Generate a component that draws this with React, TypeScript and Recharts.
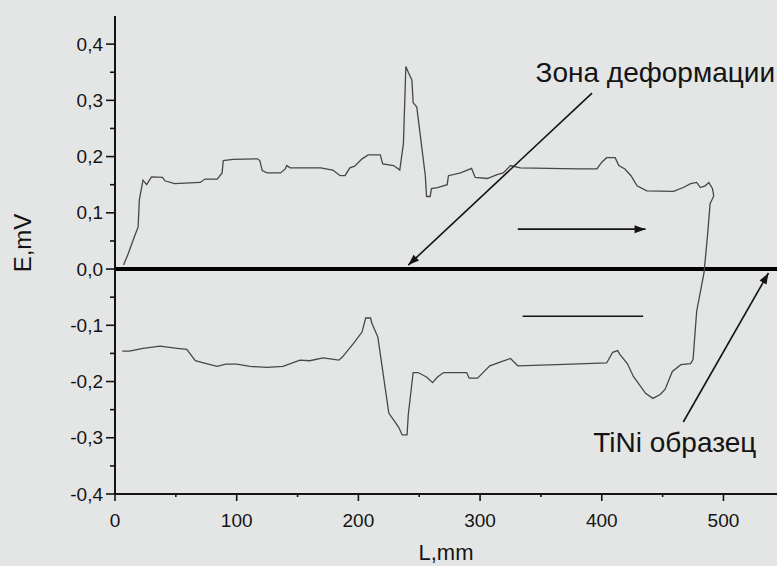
import React from "react";
import { LineChart, Line, XAxis, YAxis, ReferenceLine, ReferenceDot } from "recharts";

// trace goes right along the top branch, down at the far end, then back left along the bottom
const lengthMm = [
  7, 11, 15, 19, 20, 23, 26, 30, 39, 41, 49, 70, 74, 84, 88, 89, 97, 117, 119, 121, 125, 136, 140, 141,
  144, 169, 179, 185, 189, 193, 197, 203, 208, 218, 220, 229, 234, 237, 239, 241, 244, 245, 248, 255,
  256, 259, 260, 265, 273, 274, 284, 293, 296, 306, 314, 319, 325, 333, 380, 396, 400, 404, 411, 414,
  419, 424, 429, 437, 459, 467, 473, 478, 481, 485, 488, 491, 492, 489, 487, 484, 478, 475, 473, 465,
  458, 452, 448, 442, 436, 426, 421, 415, 413, 409, 404, 363, 331, 325, 317, 308, 302, 298, 291, 289,
  270, 265, 261, 256, 249, 245, 241, 240, 236, 233, 225, 216, 211, 210, 206, 203, 196, 187, 184, 171,
  160, 152, 138, 125, 111, 100, 91, 84, 75, 66, 59, 51, 37, 23, 12, 6,
];
const emfMv = [
  0.007, 0.028, 0.052, 0.075, 0.123, 0.158, 0.15, 0.164, 0.163, 0.157, 0.152, 0.154, 0.16, 0.16, 0.171,
  0.193, 0.195, 0.196, 0.193, 0.175, 0.171, 0.171, 0.178, 0.184, 0.18, 0.18, 0.176, 0.166, 0.166, 0.18,
  0.183, 0.196, 0.203, 0.203, 0.187, 0.184, 0.176, 0.223, 0.36, 0.35, 0.336, 0.296, 0.288, 0.166,
  0.129, 0.129, 0.143, 0.145, 0.15, 0.166, 0.171, 0.179, 0.163, 0.161, 0.168, 0.171, 0.184, 0.18, 0.178,
  0.178, 0.19, 0.198, 0.198, 0.184, 0.178, 0.166, 0.148, 0.139, 0.138, 0.145, 0.152, 0.154, 0.145,
  0.148, 0.154, 0.143, 0.13, 0.116, 0.062, -0.007, -0.075, -0.161, -0.168, -0.17, -0.182, -0.214,
  -0.223, -0.23, -0.221, -0.191, -0.168, -0.152, -0.145, -0.148, -0.167, -0.17, -0.172, -0.159, -0.165,
  -0.172, -0.185, -0.194, -0.194, -0.184, -0.184, -0.192, -0.202, -0.192, -0.184, -0.184, -0.259,
  -0.295, -0.295, -0.281, -0.256, -0.121, -0.096, -0.087, -0.087, -0.112, -0.132, -0.156, -0.162,
  -0.158, -0.163, -0.162, -0.173, -0.175, -0.173, -0.169, -0.169, -0.173, -0.168, -0.163, -0.143,
  -0.141, -0.137, -0.141, -0.146, -0.146,
];

const xTicks = [0, 50, 100, 150, 200, 250, 300, 350, 400, 450, 500];
const yTicks = [-0.4, -0.35, -0.3, -0.25, -0.2, -0.15, -0.1, -0.05, 0, 0.05, 0.1, 0.15, 0.2, 0.25, 0.3, 0.35, 0.4];

const zoneArrow = [{ x: 392, y: 0.313 }, { x: 241, y: 0.007 }];
const sampleArrow = [{ x: 467, y: -0.272 }, { x: 537, y: -0.007 }];
const heatArrow = [{ x: 331, y: 0.071 }, { x: 436, y: 0.071 }];
const coolLine = [{ x: 335, y: -0.084 }, { x: 434, y: -0.084 }];

const zoneLabel = { x: 444, y: 0.35, text: "Зона деформации" };
const sampleLabel = { x: 460, y: -0.308, text: "TiNi образец" };

const data = lengthMm.map((l, i) => ({ l, e: emfMv[i] }));

const ink = "#141414";
const font = "'Liberation Sans', Arial, sans-serif";
const isMajor = (v: number, step: number) => Math.abs(v / step - Math.round(v / step)) < 1e-6;
const comma = (v: number) => v.toFixed(1).replace(".", ",");

const YTick = ({ x, y, payload }: any) => {
  const major = isMajor(payload.value, 0.1);
  return (
    <g>
      <line x1={x - (major ? 9 : 5)} x2={x} y1={y} y2={y} stroke={ink} strokeWidth={1.6} />
      {major && (
        <text x={x - 12} y={y} dy="0.35em" textAnchor="end" fontSize={19} fontFamily={font} fill={ink}>
          {comma(payload.value)}
        </text>
      )}
    </g>
  );
};

const XTick = ({ x, y, payload }: any) => {
  const major = isMajor(payload.value, 100);
  return (
    <g>
      <line x1={x} x2={x} y1={y} y2={y + (major ? 7 : 3)} stroke={ink} strokeWidth={1.6} />
      {major && (
        <text x={x} y={y + 26} dy="0.35em" textAnchor="middle" fontSize={19} fontFamily={font} fill={ink}>
          {payload.value}
        </text>
      )}
    </g>
  );
};

const arrow = (head: boolean) => (p: any) => {
  const { x1, y1, x2, y2 } = p;
  const a = Math.atan2(y2 - y1, x2 - x1);
  const len = 11;
  const w = 4;
  const bx = x2 - len * Math.cos(a);
  const by = y2 - len * Math.sin(a);
  const pts = [
    `${x2},${y2}`,
    `${bx + w * Math.sin(a)},${by - w * Math.cos(a)}`,
    `${bx - w * Math.sin(a)},${by + w * Math.cos(a)}`,
  ].join(" ");
  return (
    <g>
      <line x1={x1} y1={y1} x2={x2} y2={y2} stroke={ink} strokeWidth={1.6} />
      {head && <polygon points={pts} fill={ink} />}
    </g>
  );
};

const textShape = (text: string) => (p: any) => (
  <text x={p.cx} y={p.cy} dy="0.35em" textAnchor="middle" fontSize={28} fontFamily={font} fill={ink}>
    {text}
  </text>
);

export default function App() {
  return (
    <div style={{ position: "absolute", left: 0, top: 0, width: 777, height: 566, background: "#e4e6e6" }}>
      <LineChart width={777} height={566} data={data} margin={{ top: 16, right: 0, left: 0, bottom: 0 }}>
        <XAxis
          dataKey="l"
          type="number"
          domain={[0, 544]}
          ticks={xTicks}
          interval={0}
          tickSize={0}
          tickMargin={0}
          tickLine={false}
          tick={<XTick />}
          height={72}
          axisLine={{ stroke: ink, strokeWidth: 2 }}
          label={(p: any) => (
            <text
              x={p.viewBox.x + p.viewBox.width / 2}
              y={p.viewBox.y + 58}
              dy="0.35em"
              textAnchor="middle"
              fontSize={22}
              fontFamily={font}
              fill={ink}
            >
              L,mm
            </text>
          )}
        />
        <YAxis
          type="number"
          domain={[-0.4, 0.45]}
          ticks={yTicks}
          interval={0}
          tickSize={0}
          tickMargin={0}
          tickLine={false}
          tick={<YTick />}
          width={115}
          axisLine={{ stroke: ink, strokeWidth: 2 }}
          label={(p: any) => {
            const cx = p.viewBox.x + 23;
            const cy = p.viewBox.y + p.viewBox.height / 2 - 12;
            return (
              <text
                x={cx}
                y={cy}
                dy="0.35em"
                textAnchor="middle"
                fontSize={24}
                fontFamily={font}
                fill={ink}
                transform={`rotate(-90 ${cx} ${cy})`}
              >
                E,mV
              </text>
            );
          }}
        />
        <ReferenceLine y={0} stroke="#000" strokeWidth={4} />
        <Line
          type="linear"
          dataKey="e"
          stroke="#474747"
          strokeWidth={1.3}
          dot={false}
          isAnimationActive={false}
        />
        <ReferenceLine segment={zoneArrow} ifOverflow="visible" shape={arrow(true)} />
        <ReferenceLine segment={sampleArrow} ifOverflow="visible" shape={arrow(true)} />
        <ReferenceLine segment={heatArrow} ifOverflow="visible" shape={arrow(true)} />
        <ReferenceLine segment={coolLine} ifOverflow="visible" shape={arrow(false)} />
        <ReferenceDot x={zoneLabel.x} y={zoneLabel.y} ifOverflow="visible" shape={textShape(zoneLabel.text)} />
        <ReferenceDot x={sampleLabel.x} y={sampleLabel.y} ifOverflow="visible" shape={textShape(sampleLabel.text)} />
      </LineChart>
    </div>
  );
}
